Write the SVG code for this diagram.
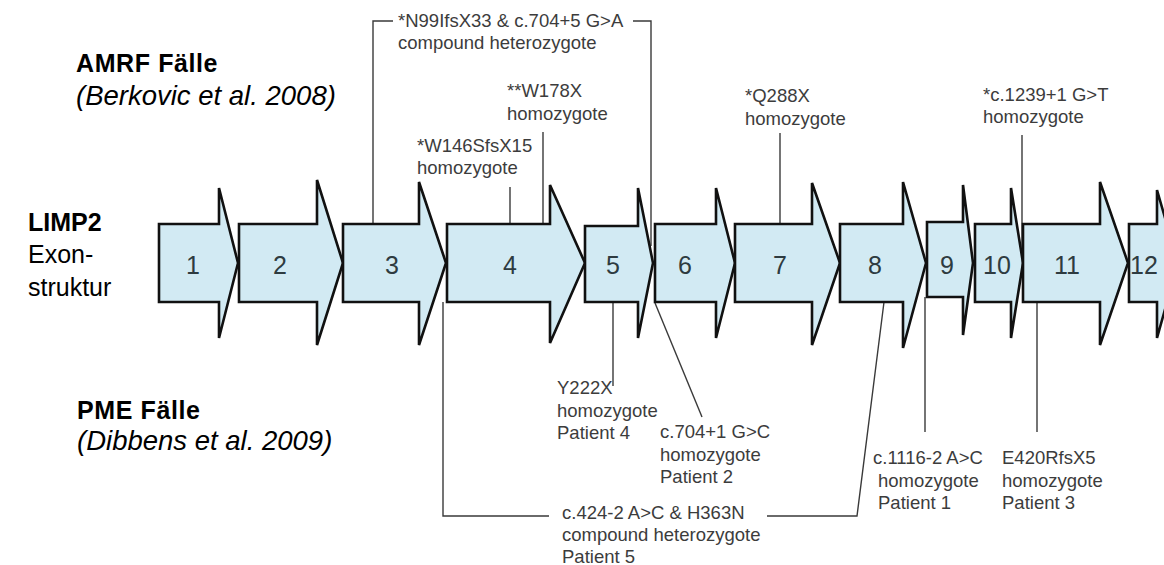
<svg xmlns="http://www.w3.org/2000/svg" width="1164" height="565" viewBox="0 0 1164 565">
<style>
.ex{fill:#d2eaf3;stroke:#111;stroke-width:2.6;stroke-linejoin:miter}
.num{font-family:"Liberation Sans",Arial,sans-serif;font-size:25px;fill:#2e3b40;text-anchor:middle}
.lbl{font-family:"Liberation Sans",Arial,sans-serif;font-size:18.5px;fill:#3c3c3c}
.hd{font-family:"Liberation Sans",Arial,sans-serif;font-size:25px;fill:#000}
.it{font-style:italic;font-size:27.5px}
.cn{fill:none;stroke:#3a3a3a;stroke-width:1.4}
</style>
<rect width="1164" height="565" fill="#fff"/>
<g id="headings">
<text class="hd" x="76" y="72" font-weight="bold" letter-spacing="0.6">AMRF Fälle</text>
<text class="hd it" x="76" y="105">(Berkovic et al. 2008)</text>
<text class="hd" x="28" y="231" font-weight="bold" font-size="27">LIMP2</text>
<text class="hd" x="28" y="263" font-size="27.5">Exon-</text>
<text class="hd" x="28" y="296" font-size="27.5">struktur</text>
<text class="hd" x="77" y="419" font-weight="bold" letter-spacing="0.6">PME Fälle</text>
<text class="hd it" x="77" y="450">(Dibbens et al. 2009)</text>
</g>
<g id="connectors">
<polyline class="cn" points="393,21 373,21 373,224"/>
<polyline class="cn" points="633,21 651,21 651,246"/>
<line class="cn" x1="510" y1="187" x2="510" y2="224"/>
<line class="cn" x1="543" y1="132" x2="543" y2="224"/>
<line class="cn" x1="780" y1="133" x2="780" y2="224"/>
<line class="cn" x1="1022" y1="135" x2="1022" y2="263"/>
<polyline class="cn" points="549,516 443,516 443,302"/>
<polyline class="cn" points="767,516 857,516 884,302"/>
<line class="cn" x1="613" y1="302" x2="613" y2="386"/>
<line class="cn" x1="655" y1="303" x2="702" y2="417"/>
<line class="cn" x1="925" y1="297" x2="925" y2="432"/>
<line class="cn" x1="1037" y1="302" x2="1037" y2="432"/>
</g>
<g id="exon1"><path class="ex" d="M159,224H219V188L238,263L219,338V302H159Z"/><text class="num" x="193" y="274">1</text></g>
<g id="exon2"><path class="ex" d="M239,224H317V180L343,263L317,345V302H239Z"/><text class="num" x="280" y="274">2</text></g>
<g id="exon3"><path class="ex" d="M343,224H419V182L446,263L419,345V302H343Z"/><text class="num" x="392" y="274">3</text></g>
<g id="exon4"><path class="ex" d="M447,224H550V185L585,263L550,343V302H447Z"/><text class="num" x="510" y="274">4</text></g>
<g id="exon5"><path class="ex" d="M585,226H638V188L653,263L638,338V302H585Z"/><text class="num" x="613" y="274">5</text></g>
<g id="exon6"><path class="ex" d="M655,224H716V188L735,263L716,338V302H655Z"/><text class="num" x="685" y="274">6</text></g>
<g id="exon7"><path class="ex" d="M735,224H812V183L840,263L812,345V302H735Z"/><text class="num" x="780" y="274">7</text></g>
<g id="exon8"><path class="ex" d="M840,224H903V182L926,263L903,348V302H840Z"/><text class="num" x="875" y="274">8</text></g>
<g id="exon9"><path class="ex" d="M927,222H963V185L973,263L963,335V297H927Z"/><text class="num" x="947" y="274">9</text></g>
<g id="exon10"><path class="ex" d="M975,224H1011V188L1023,263L1011,338V302H975Z"/><text class="num" x="997" y="274">10</text></g>
<g id="exon11"><path class="ex" d="M1023,224H1100V182L1128,263L1100,345V302H1023Z"/><text class="num" x="1067" y="274">11</text></g>
<g id="exon12"><path class="ex" d="M1129,224H1157V190L1178,263L1157,338V302H1129Z"/><text class="num" x="1144" y="274">12</text></g>
<g id="label-n99">
<text class="lbl" x="398" y="27">*N99IfsX33 &amp; c.704+5 G&gt;A</text>
<text class="lbl" x="398" y="49">compound heterozygote</text>
</g>
<g id="label-w178x">
<text class="lbl" x="507" y="97">**W178X</text>
<text class="lbl" x="507" y="120">homozygote</text>
</g>
<g id="label-w146">
<text class="lbl" x="417" y="152">*W146SfsX15</text>
<text class="lbl" x="417" y="174">homozygote</text>
</g>
<g id="label-q288x">
<text class="lbl" x="745" y="102">*Q288X</text>
<text class="lbl" x="745" y="125">homozygote</text>
</g>
<g id="label-c1239">
<text class="lbl" x="983" y="101">*c.1239+1 G&gt;T</text>
<text class="lbl" x="983" y="123">homozygote</text>
</g>
<g id="label-y222x">
<text class="lbl" x="557" y="394">Y222X</text>
<text class="lbl" x="557" y="417">homozygote</text>
<text class="lbl" x="557" y="439">Patient 4</text>
</g>
<g id="label-c704">
<text class="lbl" x="660" y="438">c.704+1 G&gt;C</text>
<text class="lbl" x="660" y="461">homozygote</text>
<text class="lbl" x="660" y="483">Patient 2</text>
</g>
<g id="label-c424">
<text class="lbl" x="562" y="519">c.424-2 A&gt;C &amp; H363N</text>
<text class="lbl" x="562" y="541">compound heterozygote</text>
<text class="lbl" x="562" y="563">Patient 5</text>
</g>
<g id="label-c1116">
<text class="lbl" x="873" y="464">c.1116-2 A&gt;C</text>
<text class="lbl" x="878" y="487">homozygote</text>
<text class="lbl" x="878" y="509">Patient 1</text>
</g>
<g id="label-e420">
<text class="lbl" x="1002" y="464">E420RfsX5</text>
<text class="lbl" x="1002" y="487">homozygote</text>
<text class="lbl" x="1002" y="509">Patient 3</text>
</g>
</svg>
